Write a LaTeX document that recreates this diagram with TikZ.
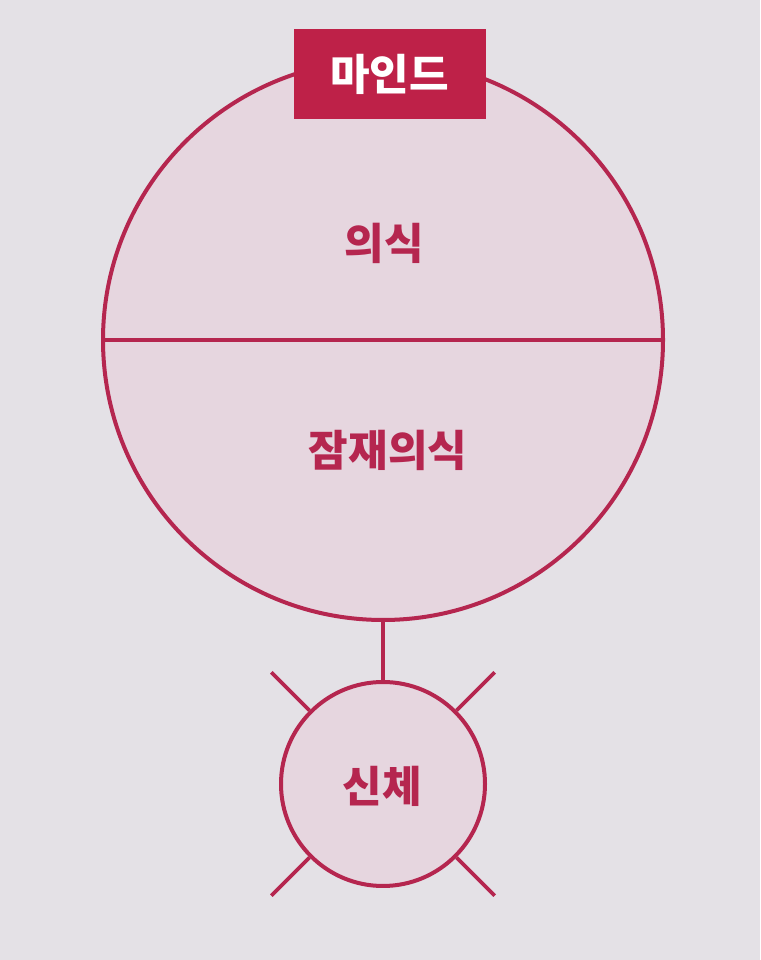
\documentclass[tikz,border=0pt]{standalone}
\usepackage{fontspec}
\newfontfamily\kr{Noto Sans CJK KR}
\definecolor{bg}{HTML}{E4E1E6}
\definecolor{fillpink}{HTML}{E6D6DF}
\definecolor{crim}{HTML}{B5264F}
\definecolor{boxred}{HTML}{BE2148}
\tikzset{
  ring/.style={circle, draw=crim, line width=4pt, fill=fillpink, inner sep=0pt},
  lbl/.style={text=crim, inner sep=0pt, font=\kr\bfseries\fontsize{43}{45}\selectfont},
  conn/.style={draw=crim, line width=3.6pt},
}
\begin{document}
\begin{tikzpicture}[x=1pt,y=1pt]
\fill[bg] (0,0) rectangle (760,960);
\useasboundingbox (0,0) rectangle (760,960);
\node[ring, minimum size=560pt] (mind) at (383,620) {};
\draw[conn, line width=3.2pt] (mind.west) -- (mind.east);
\node[rectangle, fill=boxred, minimum width=192pt, minimum height=90pt, inner sep=0pt] (label) at (389.5,885.5) {};
\node[lbl, text=white] (labeltext) at (label.center) {마인드};
\node[lbl] (con) at (384,717) {의식};
\node[lbl] (sub) at (388,510) {잠재의식};
\node[ring, minimum size=204pt] (body) at (383,176) {};
\node[lbl] (bodytext) at (382,174) {신체};
\draw[conn] (mind.south) -- (body.north);
\draw[conn] (body.135) -- ++(135:54pt);
\draw[conn] (body.45) -- ++(45:54pt);
\draw[conn] (body.225) -- ++(225:54pt);
\draw[conn] (body.315) -- ++(315:54pt);
\end{tikzpicture}
\end{document}
